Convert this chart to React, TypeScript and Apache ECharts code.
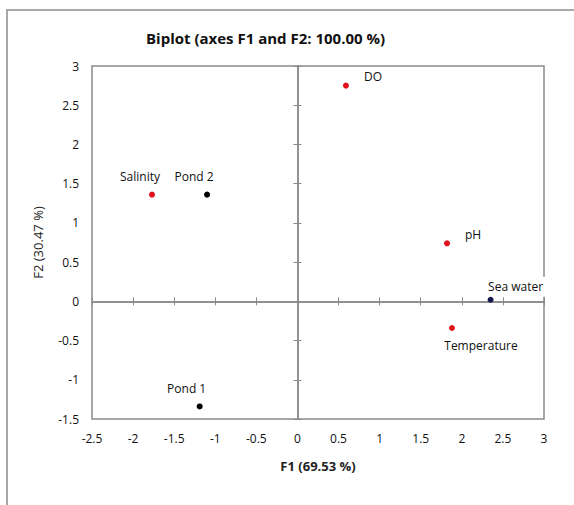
import React, { useEffect, useRef } from "react";
import * as echarts from "echarts";

// Biplot data (F1, F2 coordinates)
const names = ["DO", "Salinity", "Pond 2", "pH", "Sea water", "Temperature", "Pond 1"];
const f1Values = [0.59, -1.77, -1.1, 1.82, 2.35, 1.88, -1.19];
const f2Values = [2.75, 1.36, 1.36, 0.74, 0.02, -0.34, -1.34];
const kinds = ["variable", "variable", "observation", "variable", "supplementary", "variable", "observation"];

const title = "Biplot (axes F1 and F2: 100.00 %)";
const xName = "F1 (69.53 %)";
const yName = "F2 (30.47 %)";

// styles (kept apart from the data)
const kindColor: Record<string, string> = {
  variable: "#e0101c",
  observation: "#000000",
  supplementary: "#141450",
};
const labelStyle: Record<string, { offset: number[]; padding: number[] }> = {
  DO: { offset: [27, -9], padding: [2, 3, 2, 3] },
  Salinity: { offset: [-12, -18], padding: [2, 3, 2, 3] },
  "Pond 2": { offset: [-13, -18], padding: [2, 3, 2, 3] },
  pH: { offset: [26, -9], padding: [2, 3, 2, 3] },
  "Sea water": { offset: [25, -13], padding: [7, 6, 1, 6] },
  Temperature: { offset: [29, 17], padding: [2, 3, 2, 3] },
  "Pond 1": { offset: [-13, -18], padding: [4, 14, 30, 14] },
};

const FONT = "'Open Sans', sans-serif";
const AXIS_COLOR = "#8a8a8a";

export default function App() {
  const ref = useRef<HTMLDivElement>(null);
  useEffect(() => {
    if (!ref.current) return;
    const chart = echarts.init(ref.current, null, { renderer: "svg" });

    const labelData = names.map((n, i) => ({
      name: n,
      value: [f1Values[i], f2Values[i]],
      label: {
        show: true,
        formatter: n,
        position: "inside",
        offset: labelStyle[n].offset,
        padding: labelStyle[n].padding,
        backgroundColor: "#ffffff",
      },
    }));
    const pointData = names.map((n, i) => ({
      name: n,
      value: [f1Values[i], f2Values[i]],
      itemStyle: { color: kindColor[kinds[i]], opacity: 1 },
    }));

    const zeroX = (inside: boolean) => ({
      type: "value",
      min: -2.5,
      max: 3,
      interval: 0.5,
      position: "bottom",
      axisLine: { show: true, onZero: true, onZeroAxisIndex: 0, lineStyle: { color: AXIS_COLOR, width: 1.5 } },
      axisTick: { show: true, inside, length: 4, lineStyle: { color: AXIS_COLOR, width: 1 } },
      axisLabel: { show: false },
      splitLine: { show: false },
    });
    const zeroY = (inside: boolean) => ({
      type: "value",
      min: -1.5,
      max: 3,
      interval: 0.5,
      position: "left",
      axisLine: { show: true, onZero: true, onZeroAxisIndex: 0, lineStyle: { color: AXIS_COLOR, width: 1.5 } },
      axisTick: { show: true, inside, length: 4, lineStyle: { color: AXIS_COLOR, width: 1 } },
      axisLabel: { show: false },
      splitLine: { show: false },
    });

    chart.setOption({
      animation: false,
      backgroundColor: "#ffffff",
      textStyle: { fontFamily: FONT },
      title: {
        text: title,
        left: 141,
        top: 25,
        textStyle: { fontFamily: FONT, fontSize: 15, fontWeight: "bold", color: "#111" },
      },
      graphic: [
        {
          type: "rect",
          shape: { x: 7, y: 10, width: 700, height: 700 },
          style: { fill: "none", stroke: "#a8a8a8", lineWidth: 2 },
          silent: true,
        },
      ],
      grid: {
        left: 92,
        right: 30,
        top: 66,
        bottom: 86,
        show: true,
        borderColor: AXIS_COLOR,
        borderWidth: 1.5,
        backgroundColor: "transparent",
      },
      xAxis: [
        {
          type: "value",
          min: -2.5,
          max: 3,
          interval: 0.5,
          position: "bottom",
          axisLine: { show: false, onZero: false },
          axisTick: { show: false },
          splitLine: { show: false },
          axisLabel: { margin: 13, fontSize: 12, color: "#111", fontFamily: FONT },
          name: xName,
          nameLocation: "middle",
          nameGap: 40,
          nameTextStyle: { fontSize: 13, fontWeight: "bold", color: "#222", fontFamily: FONT },
        },
        zeroX(false),
        zeroX(true),
      ],
      yAxis: [
        {
          type: "value",
          min: -1.5,
          max: 3,
          interval: 0.5,
          position: "left",
          axisLine: { show: false, onZero: false },
          axisTick: { show: false },
          splitLine: { show: false },
          axisLabel: { margin: 13, fontSize: 12, color: "#111", fontFamily: FONT },
          name: yName,
          nameLocation: "middle",
          nameGap: 48,
          nameRotate: 90,
          nameTextStyle: { fontSize: 13, color: "#222", fontFamily: FONT },
        },
        zeroY(false),
        zeroY(true),
      ],
      series: [
        {
          type: "scatter",
          xAxisIndex: 0,
          yAxisIndex: 0,
          z: 2,
          symbolSize: 1,
          itemStyle: { color: "rgba(0,0,0,0)", opacity: 1 },
          label: { fontSize: 12, color: "#111", fontFamily: FONT },
          emphasis: { disabled: true },
          data: labelData,
        },
        {
          type: "scatter",
          xAxisIndex: 0,
          yAxisIndex: 0,
          z: 5,
          symbolSize: 6,
          emphasis: { disabled: true },
          data: pointData,
        },
      ],
    });
    return () => chart.dispose();
  }, []);
  return (
    <div
      ref={ref}
      style={{ position: "fixed", left: 0, top: 0, width: 574, height: 505 }}
    />
  );
}
